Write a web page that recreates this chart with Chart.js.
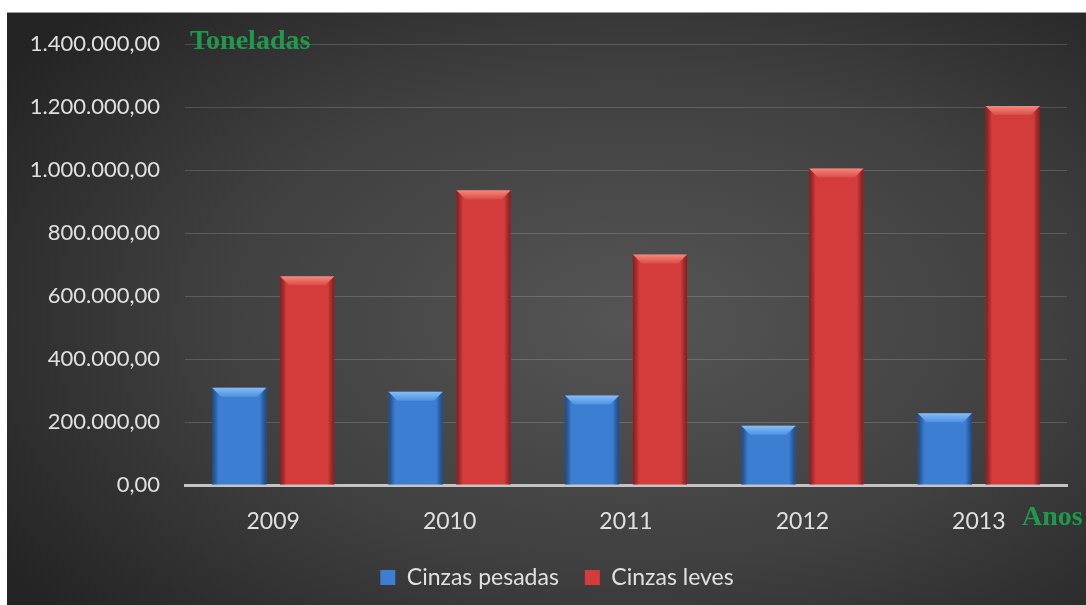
<!DOCTYPE html>
<html>
<head>
<meta charset="utf-8">
<script src="https://cdn.jsdelivr.net/npm/chart.js@4"></script>
<style>
  html, body { margin: 0; padding: 0; background: #fff; }
  #wrap {
    position: absolute; left: 7px; top: 12px; width: 1079px; height: 593px;
    background: radial-gradient(ellipse 70% 75% at 58% 52%, #555 0%, #404040 55%, #242424 100%);
    border-top: 1px solid #9a9a9a; box-sizing: border-box;
  }
  canvas { display: block; }
</style>
</head>
<body>
<div id="wrap"><canvas id="chart" width="1079" height="592"></canvas></div>
<script>
const years = ["2009", "2010", "2011", "2012", "2013"];
const cinzasPesadas = [309000, 296000, 284000, 188000, 228000];
const cinzasLeves = [663000, 936000, 732000, 1005000, 1203000];
const yMax = 1400000;
const yStep = 200000;

const FONT = "Lato, 'Open Sans', sans-serif";
const BLUE = "#3c7ed2";
const RED = "#d43c3c";

// 1.400.000,00 style numbers
function fmt(v) {
    const parts = Math.round(v).toString().replace(/\B(?=(\d{3})+(?!\d))/g, ".");
    return parts + ",00";
}

// shading on each bar: darker sides and a light bevel on top
const bevel = {
    id: "bevel",
    afterDatasetsDraw(chart) {
        const ctx = chart.ctx;
        const shades = [
            { edge: "rgba(10,30,70,0.55)", top: "#85bdf5", topIn: "#4f92e2" },
            { edge: "rgba(70,5,5,0.55)", top: "#f28a80", topIn: "#dc4c46" }
        ];
        chart.data.datasets.forEach((ds, di) => {
            const meta = chart.getDatasetMeta(di);
            const s = shades[di];
            meta.data.forEach(bar => {
                const left = bar.x - bar.width / 2;
                const right = bar.x + bar.width / 2;
                const top = bar.y;
                const base = bar.base;
                const w = bar.width;
                ctx.save();
                const g = ctx.createLinearGradient(left, 0, right, 0);
                g.addColorStop(0, s.edge);
                g.addColorStop(0.12, "rgba(0,0,0,0)");
                g.addColorStop(0.88, "rgba(0,0,0,0)");
                g.addColorStop(1, s.edge);
                ctx.fillStyle = g;
                ctx.fillRect(left, top, w, base - top);
                const d = 9;
                const tg = ctx.createLinearGradient(0, top, 0, top + d);
                tg.addColorStop(0, s.top);
                tg.addColorStop(1, s.topIn);
                ctx.fillStyle = tg;
                ctx.beginPath();
                ctx.moveTo(left, top);
                ctx.lineTo(right, top);
                ctx.lineTo(right - d, top + d);
                ctx.lineTo(left + d, top + d);
                ctx.closePath();
                ctx.fill();
                ctx.restore();
            });
        });
    }
};

// legend sits a little right of centre
const legendShift = {
    id: "legendShift",
    afterLayout(chart) {
        chart.legend.left += 20;
        chart.legend.right += 20;
    }
};

// axis captions in green
const captions = {
    id: "captions",
    afterDraw(chart) {
        const ctx = chart.ctx;
        const area = chart.chartArea;
        ctx.save();
        ctx.fillStyle = "#1f9a4c";
        ctx.font = "bold 28px 'Liberation Serif', 'Times New Roman', serif";
        ctx.textBaseline = "middle";
        ctx.textAlign = "left";
        ctx.fillText("Toneladas", area.left + 5, area.top - 2);
        ctx.fillText("Anos", area.right - 45, chart.scales.x.top + 33);
        ctx.restore();
    }
};

new Chart(document.getElementById("chart"), {
    type: "bar",
    data: {
        labels: years,
        datasets: [
            { label: "Cinzas pesadas", data: cinzasPesadas, backgroundColor: BLUE },
            { label: "Cinzas leves", data: cinzasLeves, backgroundColor: RED }
        ]
    },
    options: {
        responsive: false,
        animation: false,
        categoryPercentage: 0.77,
        barPercentage: 0.8,
        layout: { padding: { top: 31, right: 19, bottom: 6, left: 0 } },
        plugins: {
            tooltip: { enabled: false },
            legend: {
                position: "bottom",
                labels: {
                    color: "#e0e0e0",
                    font: { family: FONT, size: 23 },
                    boxWidth: 15,
                    boxHeight: 15,
                    padding: 26
                }
            }
        },
        scales: {
            x: {
                grid: { display: false },
                border: { display: true, color: "#c4c4c4", width: 3 },
                ticks: { color: "#e0e0e0", font: { family: FONT, size: 23 }, padding: 15 },
                afterFit(scale) { scale.height = 55; }
            },
            y: {
                min: 0,
                max: yMax,
                grid: { color: "rgba(255,255,255,0.16)", lineWidth: 1, drawTicks: false },
                border: { display: false },
                ticks: {
                    stepSize: yStep,
                    color: "#e0e0e0",
                    font: { family: FONT, size: 22 },
                    padding: 25,
                    callback: v => fmt(v)
                },
                afterFit(scale) {
                    scale.width = 178;
                    scale.paddingTop = 0;
                    scale.paddingBottom = 0;
                }
            }
        }
    },
    plugins: [bevel, legendShift, captions]
});
</script>
</body>
</html>
